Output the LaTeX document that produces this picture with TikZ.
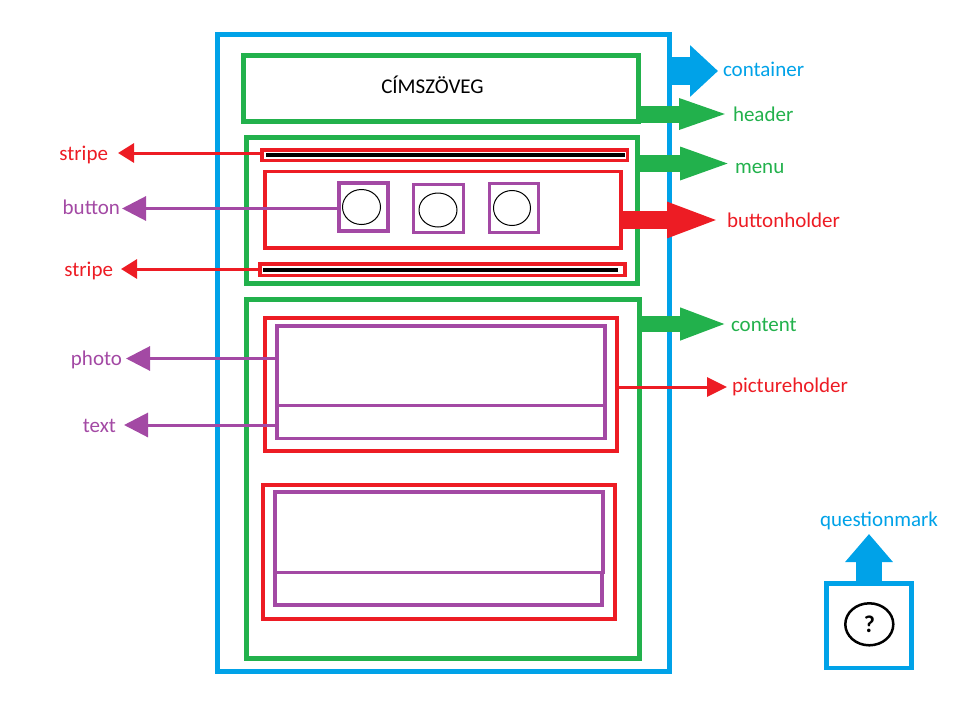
\documentclass[tikz,border=0pt]{standalone}
\usepackage{fontspec}
\setmainfont{Carlito}
\usetikzlibrary{arrows.meta,shapes.geometric}
\definecolor{paintblue}{HTML}{00A2E8}
\definecolor{paintgreen}{HTML}{22B14C}
\definecolor{paintred}{HTML}{ED1C24}
\definecolor{paintpurple}{HTML}{A349A4}
\tikzset
{
  box/.style n args={4}{draw=#1,line width=#2,anchor=north west,inner sep=0pt,outer sep=0pt,
    minimum width=#3,minimum height=#4},
  face/.style n args={2}{draw=black,line width=1pt,ellipse,inner sep=0pt,outer sep=0pt,
    minimum width=#1,minimum height=#2},
  stripeline/.style={fill=black,inner sep=0pt,outer sep=0pt,anchor=west,minimum height=4pt},
  caption/.style={text=#1,font=\fontsize{21}{24}\selectfont,inner sep=0pt,outer sep=0pt,
    text height=14pt,text depth=0pt},
  pointer/.style n args={4}{draw=#1,line width=#2,-{Triangle[length=#3,width=#4]}}
}

\begin{document}
\begin{tikzpicture}[x=1pt,y=-1pt,line join=miter]
  \useasboundingbox (0,0) rectangle (958,720);
  % page boxes
  \node[box={paintblue}{5pt}{452pt}{637pt}] (container) at (217.5,34.5) {};
  \node[box={paintgreen}{5pt}{395pt}{66.5pt}] (header) at (243,55) {};
  \node[box={paintgreen}{5pt}{391pt}{145.5pt}] (menu) at (246.5,137.5) {};
  \node[box={paintgreen}{5pt}{393pt}{359pt}] (content) at (246.5,299) {};
  \node[font=\fontsize{21}{24}\selectfont] (title) at (432.5,85) {CÍMSZÖVEG};
  % menu
  \node[box={paintred}{3.2pt}{365.5pt}{10.5pt}] (stripetop) at (262,150) {};
  \node[stripeline,minimum width=359pt] (stripetopline) at (266,154.5) {};
  \node[box={paintred}{3.2pt}{356pt}{76.5pt}] (buttonholder) at (265,171.5) {};
  \node[box={paintred}{3.2pt}{365pt}{11.5pt}] (stripebottom) at (260,264) {};
  \node[stripeline,minimum width=355pt] (stripebottomline) at (263,269.5) {};
  \node[box={paintpurple}{3.2pt}{49pt}{48pt}] (buttona) at (339,183) {};
  \node[box={paintpurple}{3.2pt}{50pt}{48pt}] (buttonb) at (413.5,184.5) {};
  \node[box={paintpurple}{3.2pt}{49pt}{49pt}] (buttonc) at (489.5,183.5) {};
  \node[face={38pt}{35pt}] (facea) at (361.5,207) {};
  \node[face={38pt}{34pt}] (faceb) at (438,210) {};
  \node[face={37pt}{35pt}] (facec) at (512,208) {};
  % content
  \node[box={paintred}{3.2pt}{352pt}{133pt}] (pictureholdera) at (265,318) {};
  \node[box={paintpurple}{3.2pt}{328pt}{79.5pt}] (photoa) at (277,326) {};
  \node[box={paintpurple}{3.2pt}{328pt}{33pt}] (texta) at (277,405.5) {};
  \node[box={paintred}{3.2pt}{352pt}{134pt}] (pictureholderb) at (263,485) {};
  \node[box={paintpurple}{3.2pt}{328pt}{80.5pt}] (photob) at (275,492) {};
  \node[box={paintpurple}{3.2pt}{327pt}{32.5pt}] (textb) at (275,572.5) {};
  % question mark
  \node[box={paintblue}{4.7pt}{85.4pt}{84.5pt}] (questionbox) at (826.3,583.5) {};
  \node[draw=black,line width=2.5pt,ellipse,inner sep=0pt,minimum width=48pt,minimum height=42pt,
    font=\fontsize{24}{26}\selectfont\bfseries] (questionface) at (869.3,624.3) {?};
  % labels
  \node[caption=paintblue,anchor=west] (lblcontainer) at (723,69) {container};
  \node[caption=paintgreen,anchor=west] (lblheader) at (733,114) {header};
  \node[caption=paintgreen,anchor=west] (lblmenu) at (735,166) {menu};
  \node[caption=paintred,anchor=west] (lblbuttonholder) at (727,220) {buttonholder};
  \node[caption=paintgreen,anchor=west] (lblcontent) at (731,324) {content};
  \node[caption=paintred,anchor=west] (lblpictureholder) at (732,385) {pictureholder};
  \node[caption=paintblue] (lblquestionmark) at (879,519) {questionmark};
  \node[caption=paintred,anchor=east] (lblstripetop) at (108,153) {stripe};
  \node[caption=paintpurple,anchor=east] (lblbutton) at (120,207.5) {button};
  \node[caption=paintred,anchor=east] (lblstripebottom) at (113,269) {stripe};
  \node[caption=paintpurple,anchor=east] (lblphoto) at (122,358.5) {photo};
  \node[caption=paintpurple,anchor=east] (lbltext) at (116,425) {text};
  % right arrows
  \draw[pointer={paintblue}{28pt}{28pt}{50pt},shorten >=5pt]
    (container.east |- 0,71) -- ([yshift=-2pt]lblcontainer.west);
  \draw[pointer={paintgreen}{17pt}{52pt}{27pt},shorten >=2pt]
    (header.east |- lblheader.west) -- (lblheader.west);
  \draw[pointer={paintgreen}{17pt}{53pt}{29pt},shorten >=2pt]
    (menu.east |- 0,163.5) -- ([yshift=2.5pt]lblmenu.west);
  \draw[pointer={paintred}{18pt}{53pt}{32pt},shorten >=7pt]
    (buttonholder.east |- lblbuttonholder.west) -- (lblbuttonholder.west);
  \draw[pointer={paintgreen}{16pt}{48pt}{29pt},shorten >=3pt]
    (content.east |- lblcontent.west) -- (lblcontent.west);
  \draw[pointer={paintred}{3pt}{20pt}{19pt},shorten >=5pt]
    (pictureholdera.east |- 0,387) -- ([yshift=-2pt]lblpictureholder.west);
  \draw[pointer={paintblue}{25.6pt}{28pt}{46pt},shorten >=8pt]
    (questionbox.north) -- (questionbox.north |- lblquestionmark.south);
  % left arrows
  \draw[pointer={paintred}{3pt}{16pt}{19pt},shorten >=10pt]
    (stripetop.west |- lblstripetop.east) -- (lblstripetop.east);
  \draw[pointer={paintpurple}{3pt}{24pt}{24pt},shorten >=2pt]
    (buttona.west |- 0,208.5) -- ([yshift=-1pt]lblbutton.east);
  \draw[pointer={paintred}{3pt}{16pt}{19pt},shorten >=8pt]
    (stripebottom.west |- lblstripebottom.east) -- (lblstripebottom.east);
  \draw[pointer={paintpurple}{3pt}{24pt}{24pt},shorten >=4pt]
    (photoa.west |- lblphoto.east) -- (lblphoto.east);
  \draw[pointer={paintpurple}{3pt}{24pt}{24pt},shorten >=8pt]
    (texta.west |- lbltext.east) -- (lbltext.east);
\end{tikzpicture}
\end{document}
